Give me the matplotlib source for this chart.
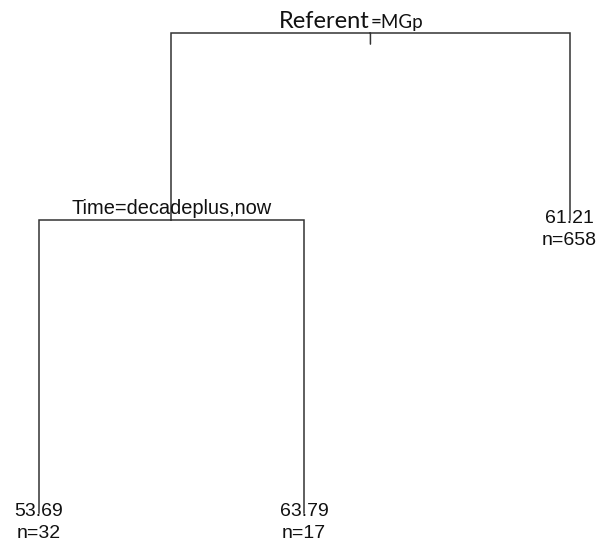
import matplotlib
matplotlib.use("Agg")
import matplotlib.pyplot as plt

# regression tree (rpart style): node id -> parent id, split label, mean, n
node_ids = [1, 2, 3, 4, 5]
parents = [0, 1, 1, 2, 2]
split_var = ["Referent", "Time=decadeplus,now", None, None, None]
split_val = ["=MGp", None, None, None, None]
leaf_mean = [None, None, 61.21, 53.69, 63.79]
leaf_n = [None, None, 658, 32, 17]
# branch height of each node (deviance scale, root = 1)
node_height = [1.0, 0.611, 0.611, 0.0, 0.0]

# leaves ordered left to right
leaf_order = [4, 5, 3]

xpos = {}
for i, nid in enumerate(leaf_order):
    xpos[nid] = i + 1
# internal nodes: midpoint of children (bottom-up)
for nid in sorted(node_ids, reverse=True):
    kids = [c for c, p in zip(node_ids, parents) if p == nid]
    if kids:
        xpos[nid] = sum(xpos[k] for k in kids) / len(kids)
ypos = dict(zip(node_ids, node_height))

fig = plt.figure(figsize=(5.98, 5.42), dpi=100)
ax = fig.add_axes([0, 0, 1, 1])
ax.set_xlim(0.855, 3.107)
ax.set_ylim(-0.060, 1.069)
ax.axis("off")

lc = "#333333"
lw = 1.1

# branches
for nid, par in zip(node_ids, parents):
    if par == 0:
        continue
    ax.plot([xpos[par], xpos[nid], xpos[nid]],
            [ypos[par], ypos[par], ypos[nid]], color=lc, lw=lw,
            solid_joinstyle="miter")

# little stub under the root
ax.annotate("", xy=(xpos[1], ypos[1]), xytext=(0, -11), textcoords="offset pixels",
            arrowprops=dict(arrowstyle="-", color=lc, lw=lw, shrinkA=0, shrinkB=0))

arial = "Liberation Sans"
cal = "Lato"

for nid, sv, sval in zip(node_ids, split_var, split_val):
    if sv is None:
        continue
    if sval is not None:
        ax.annotate(sv, (xpos[nid], ypos[nid]), xytext=(-1, 5),
                    textcoords="offset pixels", ha="right", va="baseline",
                    fontsize=17, family=cal, color="#111111")
        ax.annotate(sval, (xpos[nid], ypos[nid]), xytext=(0, 5),
                    textcoords="offset pixels", ha="left", va="baseline",
                    fontsize=13.5, family=cal, color="#111111")
    else:
        ax.annotate(sv, (xpos[nid], ypos[nid]), xytext=(0, 6),
                    textcoords="offset pixels", ha="center", va="baseline",
                    fontsize=14.4, family=arial, color="#111111")

for nid, m, n in zip(node_ids, leaf_mean, leaf_n):
    if m is None:
        continue
    ax.annotate(f"{m:.2f}", (xpos[nid], ypos[nid]), xytext=(0, -3),
                textcoords="offset pixels", ha="center", va="baseline",
                fontsize=14, family=arial, color="#111111")
    ax.annotate(f"n={n}", (xpos[nid], ypos[nid]), xytext=(0, -25),
                textcoords="offset pixels", ha="center", va="baseline",
                fontsize=14, family=arial, color="#111111")

fig.savefig("out.png", dpi=100)
